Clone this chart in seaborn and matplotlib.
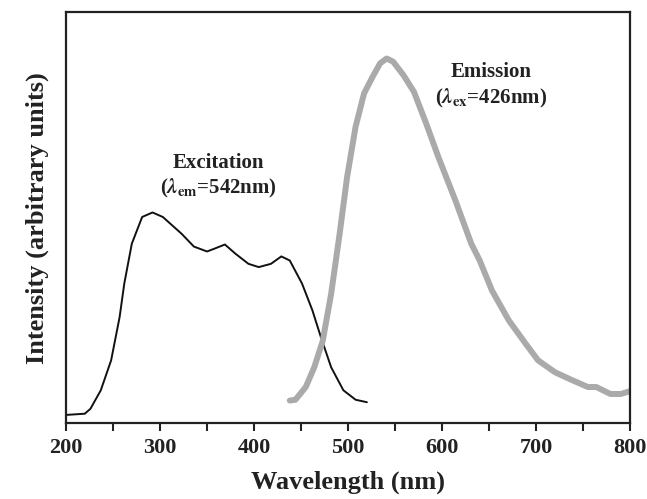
import numpy as np
import pandas as pd
import matplotlib
matplotlib.use("Agg")
import matplotlib.pyplot as plt
import seaborn as sns
from matplotlib.ticker import MultipleLocator

# excitation spectrum (lambda_em = 542 nm)
ex_nm = [200, 220, 226, 237, 248, 257, 262, 270, 281, 292, 303, 323, 336, 350, 358,
         369, 380, 394, 405, 418, 429, 438, 451, 462, 471, 482, 495, 508, 520]
ex_int = [0.020, 0.023, 0.035, 0.080, 0.153, 0.258, 0.340, 0.437, 0.502, 0.513, 0.502,
          0.461, 0.430, 0.418, 0.425, 0.435, 0.413, 0.388, 0.380, 0.388, 0.406, 0.396,
          0.340, 0.275, 0.210, 0.136, 0.080, 0.057, 0.051]

# emission spectrum (lambda_ex = 426 nm)
em_nm = [438, 444, 455, 464, 473, 482, 491, 499, 508, 517, 526, 534, 541, 548, 559,
         570, 583, 596, 614, 631, 640, 653, 671, 689, 702, 720, 737, 755, 764, 779,
         790, 800]
em_int = [0.055, 0.057, 0.088, 0.136, 0.200, 0.315, 0.461, 0.600, 0.722, 0.803, 0.843,
          0.876, 0.888, 0.880, 0.847, 0.807, 0.730, 0.648, 0.543, 0.437, 0.396, 0.323,
          0.250, 0.193, 0.153, 0.124, 0.106, 0.088, 0.088, 0.071, 0.071, 0.078]

sns.set_theme(style="ticks")
plt.rcParams['font.family'] = ['Liberation Serif', 'DejaVu Serif']
plt.rcParams['font.weight'] = 'bold'
plt.rcParams['mathtext.fontset'] = 'stix'

ink = '#222222'
fig = plt.figure(figsize=(6.47, 4.99), dpi=100)
ax = fig.add_axes([0.102, 0.152, 0.872, 0.823])

ex = pd.DataFrame({'nm': ex_nm, 'I': ex_int})
em = pd.DataFrame({'nm': em_nm, 'I': em_int})
sns.lineplot(data=ex, x='nm', y='I', ax=ax, color='#111111', linewidth=1.4)
sns.lineplot(data=em, x='nm', y='I', ax=ax, color='#aaaaaa', linewidth=4.3)

ax.set_xlim(200, 800)
ax.set_ylim(0, 1)
ax.xaxis.set_major_locator(MultipleLocator(100))
ax.xaxis.set_minor_locator(MultipleLocator(50))
ax.set_yticks([])
ax.tick_params(axis='x', which='both', direction='out', length=6, width=1.5,
               labelsize=16, color=ink, labelcolor=ink, pad=5)
for s in ax.spines.values():
    s.set_linewidth(1.6)
    s.set_color(ink)

ax.set_xlabel('Wavelength (nm)', fontsize=19, fontweight='bold', color=ink, labelpad=9)
ax.set_ylabel('Intensity (arbitrary units)', fontsize=19, fontweight='bold', color=ink, labelpad=12)

ax.text(362, 0.634, 'Excitation', ha='center', va='center', fontsize=15, fontweight='bold', color=ink)
ax.text(362, 0.571, r'($\lambda_{\mathrm{em}}$=542nm)', ha='center', va='center', fontsize=15,
        fontweight='bold', color=ink)
ax.text(652, 0.855, 'Emission', ha='center', va='center', fontsize=15, fontweight='bold', color=ink)
ax.text(652, 0.79, r'($\lambda_{\mathrm{ex}}$=426nm)', ha='center', va='center', fontsize=15,
        fontweight='bold', color=ink)

fig.savefig('out.png', dpi=100)
